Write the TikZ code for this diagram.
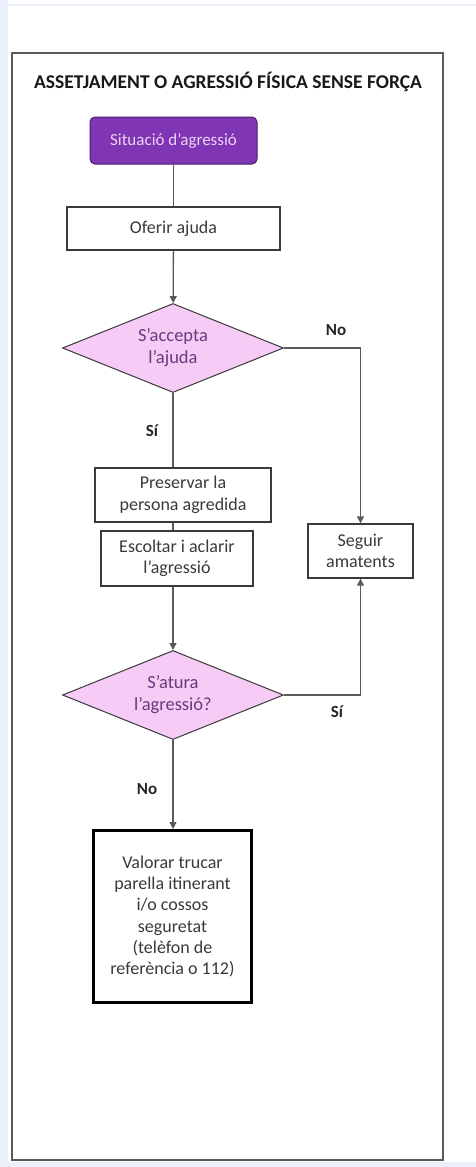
\documentclass[tikz,border=0pt]{standalone}
\usepackage{fontspec}
\setmainfont{Carlito}
\usetikzlibrary{positioning}
\usetikzlibrary{shapes.geometric}
\usetikzlibrary{arrows.meta}

\definecolor{startpurple}{HTML}{8036B4}
\definecolor{startedge}{HTML}{4B1C6B}
\definecolor{startink}{HTML}{EBD2F2}
\definecolor{decisionpink}{HTML}{F6CBF6}
\definecolor{decisionink}{HTML}{6A3A7C}
\definecolor{boxink}{HTML}{3A3A3A}
\definecolor{lineclr}{HTML}{5A5A5A}
\definecolor{pageblue}{HTML}{EBF0FA}

\tikzset{
  stepbox/.style={draw=boxink, line width=1.3pt, fill=white, align=center,
    text=boxink, font=\fontsize{18}{21.5}\selectfont, inner sep=0pt},
  startbox/.style={draw=startedge, line width=1pt, fill=startpurple,
    rounded corners=5pt, text=startink, font=\fontsize{17}{20}\selectfont,
    minimum width=167pt, minimum height=47pt, inner sep=0pt},
  decision/.style={diamond, draw=boxink, line width=1pt, fill=decisionpink,
    text=decisionink, align=center, font=\fontsize{18.5}{22}\selectfont,
    minimum width=221pt, minimum height=89pt, inner sep=0pt, aspect=2.46},
  connector/.style={draw=lineclr, line width=1.3pt},
  arrowline/.style={connector, -{Triangle[length=7pt,width=7pt]}},
  answer/.style={font=\bfseries\fontsize{17}{19}\selectfont, text=black!85}
}

\begin{document}
\begin{tikzpicture}[x=1pt,y=-1pt]
  % page background
  \fill[white] (0,0) rectangle (476,1167);
  \useasboundingbox (0,0) rectangle (476,1167);
  \fill[pageblue] (0,0) rectangle (8,1167);
  \fill[pageblue] (0,1162) rectangle (476,1167);
  \fill[pageblue] (0,4) rectangle (476,5.5);

  % outer frame and title
  \draw[draw=lineclr, line width=1.6pt] (12,53) rectangle (443,1160);
  \node[font=\bfseries\fontsize{19.5}{22}\selectfont, text=black!90] (title) at (228,82)
    {ASSETJAMENT O AGRESSIÓ FÍSICA SENSE FORÇA};

  % boxes
  \node[startbox] (start) at (173.5,140.5) {Situació d'agressió};
  \node[stepbox, minimum width=213pt, minimum height=43pt] (help) at (173.5,228.5) {Oferir ajuda};
  \node[decision] (accept) at (173,348) {S'accepta\\l'ajuda};
  \node[stepbox, minimum width=176pt, minimum height=54pt] (protect) at (183,495)
    {Preservar la\\persona agredida};
  \node[stepbox, minimum width=152pt, minimum height=55pt] (listen) at (177,558.5)
    {Escoltar i aclarir\\l'agressió};
  \node[stepbox, minimum width=105pt, minimum height=54pt] (watch) at (360.5,551)
    {Seguir\\amatents};
  \node[decision] (stop) at (173,695) {S'atura\\l'agressió?};
  \node[stepbox, line width=3pt, draw=black, minimum width=158pt, minimum height=172pt,
    font=\fontsize{18}{21.2}\selectfont] (call) at (172.5,916.5)
    {Valorar trucar\\parella itinerant\\i/o cossos\\seguretat\\(telèfon de\\referència o 112)};

  % connectors
  \draw[connector] (start) -- (help);
  \draw[arrowline] (help) -- (accept);
  \draw[connector] (accept.south) -- (accept.south |- protect.north);
  \draw[connector] (accept.south |- protect.south) -- (accept.south |- listen.north);
  \draw[arrowline] (accept.east) -| (watch.north);
  \draw[arrowline] (accept.south |- listen.south) -- (stop.north);
  \draw[arrowline] (stop.east) -| (watch.south);
  \draw[arrowline] (stop.south) -- (stop.south |- call.north);

  % answers
  \node[answer] (acceptno) at (336,330) {No};
  \node[answer] (acceptyes) at (152,431) {Sí};
  \node[answer] (stopyes) at (337,712) {Sí};
  \node[answer] (stopno) at (147,789) {No};
\end{tikzpicture}
\end{document}
